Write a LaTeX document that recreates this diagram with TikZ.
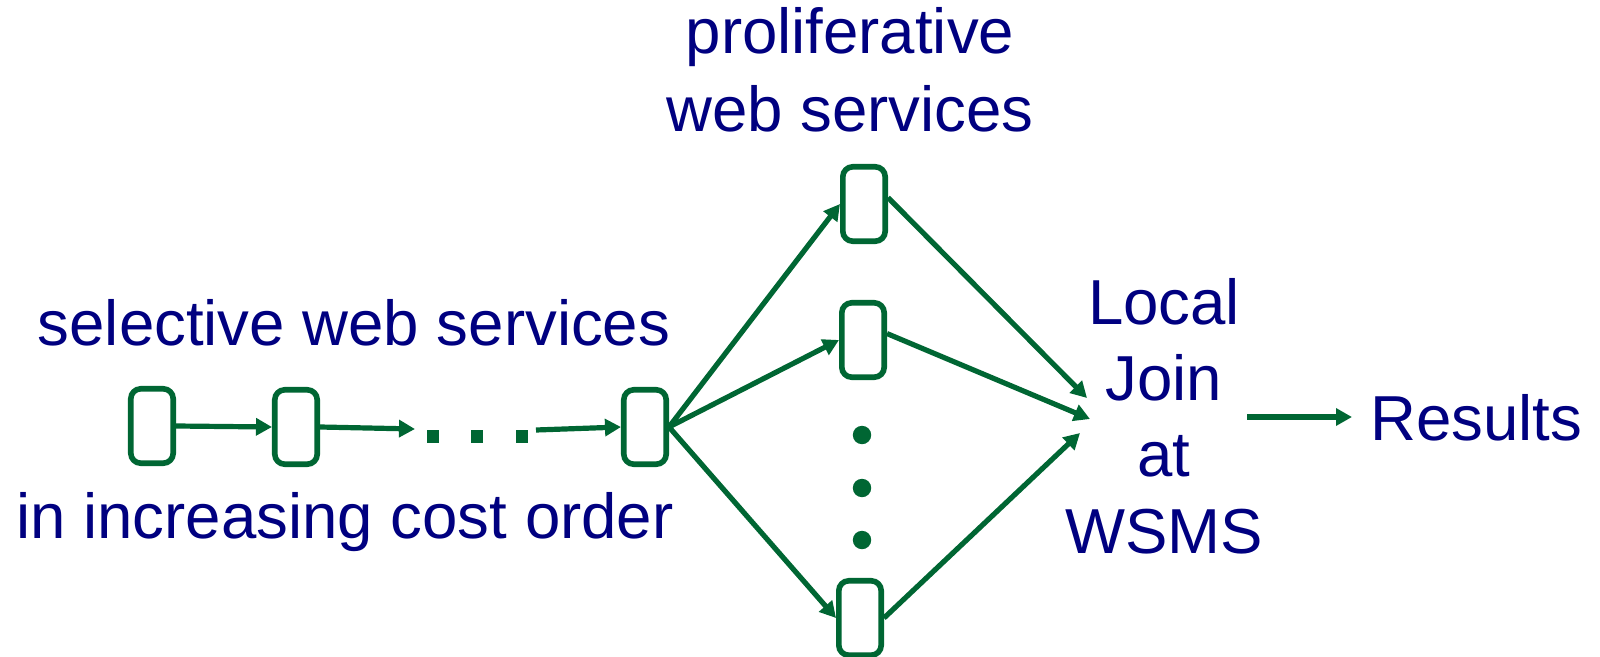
\documentclass[tikz,border=0pt]{standalone}
\usepackage{fontspec}
\setmainfont{Liberation Sans}
\usetikzlibrary{arrows.meta}
\definecolor{wsgreen}{RGB}{0,102,51}
\definecolor{wsnavy}{RGB}{0,0,128}

\begin{document}
\begin{tikzpicture}[x=0.025cm,y=-0.025cm,
  svc/.style={draw=wsgreen, line width=0.14cm, rounded corners=0.25cm,
    minimum width=1.06cm, minimum height=1.86cm, inner sep=0pt},
  flow/.style={draw=wsgreen, line width=0.13cm,
    -{Triangle[length=0.4cm,width=0.42cm]}},
  lbl/.style={text=wsnavy, font=\fontsize{45.2pt}{55.5pt}\selectfont,
    inner sep=0pt, align=center},
  sq/.style={fill=wsgreen, minimum size=0.3175cm, inner sep=0pt},
  dotnode/.style={circle, fill=wsgreen, minimum size=0.46cm, inner sep=0pt}]
\useasboundingbox (0,0) rectangle (1600,657);

% selective services, called one after another
\node[svc] (b1) at (152,426) {};
\node[svc] (b2) at (296,427) {};
\node[svc] (b3) at (645,427) {};
\node[sq] (d1) at (433,436.5) {};
\node[sq] (d2) at (477,436.5) {};
\node[sq] (d3) at (522,436.5) {};
\coordinate (c2) at (415,429);
\coordinate (c3) at (536,430);

% proliferative services, called in parallel
\node[svc] (p1) at (864,204) {};
\node[svc] (p2) at (863,340) {};
\node[svc] (p3) at (860,618) {};
\node[dotnode] (e1) at (862,435) {};
\node[dotnode] (e2) at (862,488) {};
\node[dotnode] (e3) at (862,540) {};

% labels (base anchor sits on the last line)
\node[lbl, anchor=base] (tprol) at (850,132) {proliferative\\web services};
\node[lbl, anchor=base] (tsel) at (354,345) {selective web services};
\node[lbl, anchor=base] (tcost) at (345,538) {in increasing cost order};
\node[lbl, anchor=base, font=\fontsize{45.2pt}{54.2pt}\selectfont] (tjoin) at (1164,553) {Local\\Join\\at\\WSMS};
\node[lbl, anchor=base west] (tres) at (1370,440) {Results};

% join targets and result arrow ends
\coordinate (j1) at (1087,398);
\coordinate (j2) at (1090,419);
\coordinate (j3) at (1080,433);
\coordinate (r1) at (1247,417);
\coordinate (r2) at (1352,417);

% connectors
\draw[flow] (b1.east) -- (b2.west);
\draw[flow] (b2.east) -- (c2);
\draw[flow] (c3) -- (b3.west);
\draw[flow] (b3.east) -- (p1.west);
\draw[flow] (b3.east) -- (p2.west);
\draw[flow] (b3.east) -- (p3.west);
\draw[flow] (p1.15) -- (j1);
\draw[flow] (p2.15) -- (j2);
\draw[flow] (p3.east) -- (j3);
\draw[flow] (r1) -- (r2);
\end{tikzpicture}
\end{document}
